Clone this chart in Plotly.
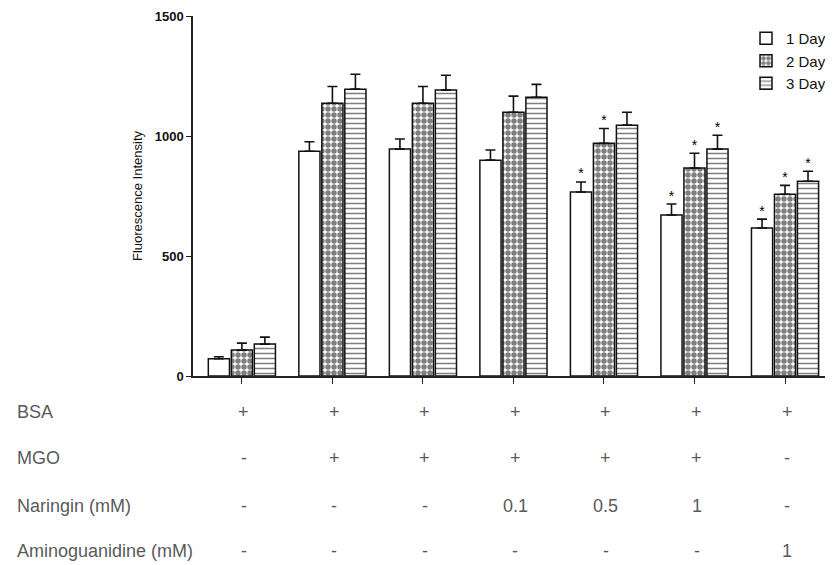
import plotly.graph_objects as go

# ---------------- data ----------------
groups = ["G1", "G2", "G3", "G4", "G5", "G6", "G7"]
days = ["1 Day", "2 Day", "3 Day"]

day1 = [72, 937, 946, 900, 767, 671, 617]
day1_err = [8, 40, 42, 42, 42, 46, 37]
day2 = [108, 1137, 1137, 1100, 970, 867, 758]
day2_err = [29, 70, 70, 67, 62, 62, 37]
day3 = [133, 1196, 1192, 1162, 1046, 946, 812]
day3_err = [29, 62, 62, 54, 54, 58, 42]

day1_sig = [False, False, False, False, True, True, True]
day2_sig = [False, False, False, False, True, True, True]
day3_sig = [False, False, False, False, False, True, True]

y_ticks = [0, 500, 1000, 1500]

row_labels = ["BSA", "MGO", "Naringin (mM)", "Aminoguanidine (mM)"]
bsa = ["+", "+", "+", "+", "+", "+", "+"]
mgo = ["-", "+", "+", "+", "+", "+", "-"]
naringin = ["-", "-", "-", "0.1", "0.5", "1", "-"]
aminoguanidine = ["-", "-", "-", "-", "-", "-", "1"]

# ---------------- figure ----------------
# the page body has an 8px margin, so the figure is laid out 8px smaller/offset
OFF = 8
W, H = 833 - OFF, 565 - OFF
ML, MT, MB, MR = 193 - OFF, 16 - OFF, 189, 0
PH = H - MT - MB
PW = W - ML - MR
PLOT_BOTTOM = 565 - MB  # window pixel of y=0

series = [
    (days[0], day1, day1_err, day1_sig, dict(shape="", fgcolor="black", bgcolor="white")),
    (days[1], day2, day2_err, day2_sig, dict(shape=".", fgcolor="black", bgcolor="white", size=6, solidity=0.65)),
    (days[2], day3, day3_err, day3_sig, dict(shape="-", fgcolor="black", bgcolor="white", size=5, solidity=0.3)),
]

fig = go.Figure()
for i, (name, vals, errs, sig, pat) in enumerate(series):
    fig.add_trace(go.Bar(
        x=groups, y=vals, name=name, offsetgroup=str(i),
        marker=dict(color="white", line=dict(color="#111", width=1.5), pattern=pat),
        error_y=dict(type="data", array=errs, arrayminus=[0] * len(errs), symmetric=False,
                     color="#111", thickness=1.6, width=5),
    ))
for i, (name, vals, errs, sig, pat) in enumerate(series):
    fig.add_trace(go.Scatter(
        x=groups, y=[v + e for v, e in zip(vals, errs)],
        text=["*" if s else "" for s in sig], mode="text",
        textposition="top center", offsetgroup=str(i), showlegend=False,
        textfont=dict(size=14, color="#000", family="Arial"), hoverinfo="skip",
    ))

annotations = []
row_py = [412, 458, 506, 551]
for r, (lab, vals) in enumerate(zip(row_labels, [bsa, mgo, naringin, aminoguanidine])):
    yp = (PLOT_BOTTOM - row_py[r]) / PH
    annotations.append(dict(text=lab, xref="paper", yref="paper", x=(15 - 193) / PW, y=yp,
                            xanchor="left", yanchor="middle", showarrow=False,
                            font=dict(size=18, color="#5a5a5a", family="Liberation Sans, Arial")))
    for g, v in zip(groups, vals):
        annotations.append(dict(text=v, xref="x", yref="paper", x=g, y=yp, xshift=2,
                                xanchor="center", yanchor="middle", showarrow=False,
                                font=dict(size=18, color="#5a5a5a", family="Liberation Sans, Arial")))

fig.update_layout(
    width=W, height=H,
    margin=dict(l=ML, r=MR, t=MT, b=MB),
    paper_bgcolor="white", plot_bgcolor="white",
    barmode="group", bargap=0.238, bargroupgap=0.08,
    scattermode="group", scattergap=0.238,
    font=dict(family="Arial", color="#111"),
    legend=dict(x=(746 - 193) / PW, y=(PLOT_BOTTOM - 22) / PH, xanchor="left", yanchor="top",
                font=dict(size=15, color="#111"), bgcolor="rgba(0,0,0,0)", tracegroupgap=0),
    annotations=annotations,
    showlegend=True,
)
fig.update_xaxes(range=[-0.54, 6.53], showline=True, linecolor="#222", linewidth=1.5,
                 ticks="outside", ticklen=6, tickcolor="#222", showticklabels=False,
                 showgrid=False, zeroline=False)
fig.update_yaxes(range=[0, 1501], tickvals=y_ticks, showline=True, linecolor="#222", linewidth=1.5,
                 ticks="outside", ticklen=5, tickcolor="#222", showgrid=False, zeroline=False,
                 tickfont=dict(size=13, family="Arial", color="#111", weight="bold"),
                 title=dict(text="Fluorescence Intensity", font=dict(size=13, color="#111"), standoff=9))

fig.write_html("out.html")
